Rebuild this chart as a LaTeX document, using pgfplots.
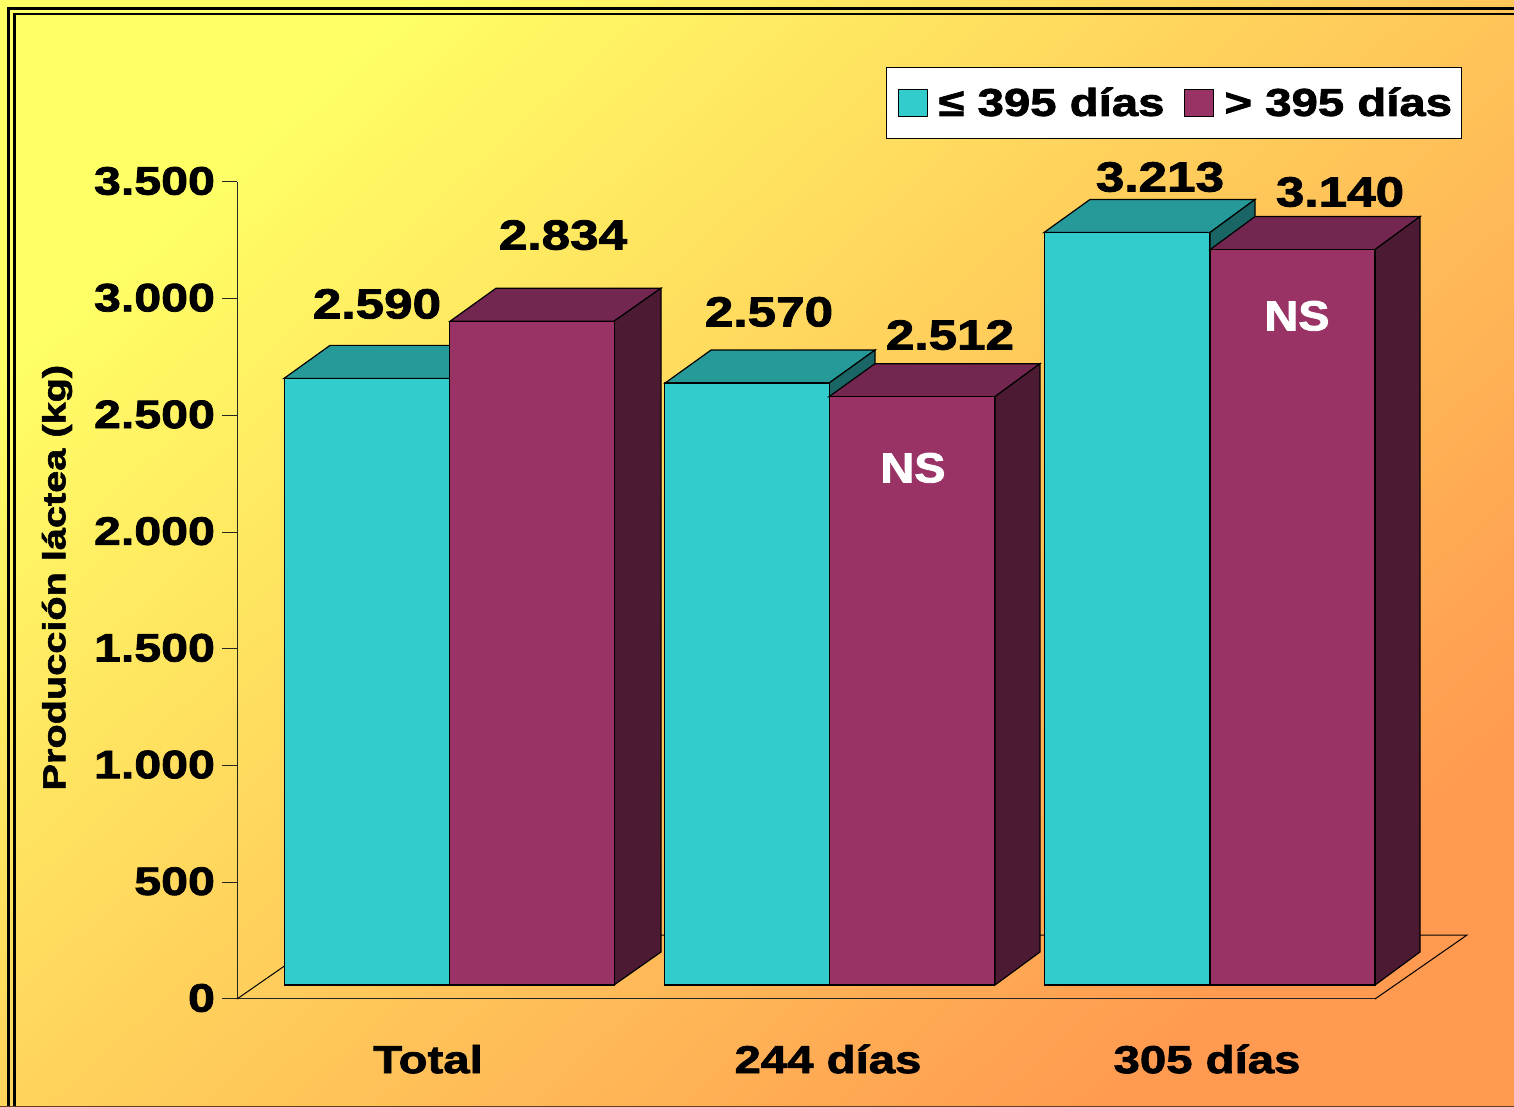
\documentclass[border=0pt]{standalone}
\usepackage{pgfplots}
\usepackage{fontspec}
\pgfplotsset{compat=1.18}
\setmainfont{Liberation Sans}
\newfontfamily\blk[FakeBold=2,FakeStretch=1.22]{Liberation Sans Bold}
\newfontfamily\blkb[FakeBold=1.8,FakeStretch=1.24]{Liberation Sans Bold}
\newfontfamily\blkn[FakeBold=2,FakeStretch=1.115]{Liberation Sans Bold}
\definecolor{tealF}{HTML}{33CCCC}
\definecolor{tealT}{HTML}{269999}
\definecolor{tealS}{HTML}{1A6666}
\definecolor{marF}{HTML}{993366}
\definecolor{marT}{HTML}{732650}
\definecolor{marS}{HTML}{4D1A33}
\definecolor{bgA}{HTML}{FFFF66}
\definecolor{bgB}{HTML}{FF9A50}
\begin{document}
\begin{tikzpicture}[x=1pt,y=1pt]
\useasboundingbox (0,0) rectangle (757,553.5);
\shade[left color=bgA,right color=bgB,shading angle=42] (0,0) rectangle (757,553.5);
% frame
\draw[black,line width=1.4pt] (4.2,-2) -- (4.2,549.3) -- (760,549.3);
\draw[black,line width=1.2pt] (7.2,-2) -- (7.2,546.4) -- (760,546.4);
\draw[black!60!bgB,line width=0.6pt] (0,0.3) -- (757,0.3);
% main axis with ticks and floor
\begin{axis}[
  at={(118.5pt,54pt)},anchor=origin,
  scale only axis,width=569pt,height=408.5pt,
  xmin=237,xmax=1375,ymin=0,ymax=3500,
  clip=false,
  axis x line=bottom,axis y line=left,
  axis line style={-,black!85,line width=0.5pt},
  xtick={428,828,1207},
  xticklabels={Total,244 días,305 días},
  x tick style={draw=none},
  ytick={0,500,1000,1500,2000,2500,3000,3500},
  yticklabels={0,500,1.000,1.500,2.000,2.500,3.000,3.500},
  y tick style={black!85,line width=0.5pt},
  tick align=outside,
  major tick length=7.5pt,
  xticklabel style={font=\blk\fontsize{19.4}{20}\selectfont,yshift=-12pt,text height=14pt,text depth=0pt},
  yticklabel style={font=\blk\fontsize{19.8}{20}\selectfont,xshift=0pt,yshift=0.5pt},
  ylabel={Producción láctea (kg)},
  every axis y label/.style={at={(axis cs:57,1805)},rotate=90,anchor=center,font=\blkb\fontsize{16}{18}\selectfont},
]
\addplot[black,line width=0.5pt,forget plot] coordinates {(237,0)(329,274)(1467,274)(1375,0)};
\end{axis}
% bars
\begin{axis}[
  at={(118.5pt,61pt)},anchor=origin,
  scale only axis,width=569pt,height=409.85pt,
  xmin=237,xmax=1375,ymin=0,ymax=3500,
  clip=false,hide axis,
  legend columns=2,
  legend style={at={(axis cs:886,3920)},anchor=north west,draw=black,fill=white,line width=0.5pt,
    font=\blk\fontsize{19.4}{20}\selectfont,inner xsep=2.5pt,inner ysep=8pt,
    /tikz/every even column/.append style={column sep=4.5pt}},
  legend image code/.code={\draw[#1,draw=black,line width=0.6pt] (0pt,-6.75pt) rectangle (14.5pt,6.75pt); \path[draw=none,fill=none] (-3.5pt,0pt) -- (18pt,0pt);},
]
% teal 3-D faces
\addplot[fill=tealT,draw=black,line width=0.6pt,forget plot] coordinates {(284,2590)(450,2590)(496,2731)(330,2731)} --cycle;
\addplot[fill=tealS,draw=black,line width=0.6pt,forget plot] coordinates {(450,0)(450,2590)(496,2731)(496,141)} --cycle;
\addplot[fill=tealT,draw=black,line width=0.6pt,forget plot] coordinates {(665,2570)(829,2570)(875,2711)(711,2711)} --cycle;
\addplot[fill=tealS,draw=black,line width=0.6pt,forget plot] coordinates {(829,0)(829,2570)(875,2711)(875,141)} --cycle;
\addplot[fill=tealT,draw=black,line width=0.6pt,forget plot] coordinates {(1044,3213)(1210,3213)(1255,3354)(1090,3354)} --cycle;
\addplot[fill=tealS,draw=black,line width=0.6pt,forget plot] coordinates {(1210,0)(1210,3213)(1255,3354)(1255,141)} --cycle;
% teal bars
\addplot[ybar,bar width=82.5pt,bar shift=0pt,fill=tealF,draw=black,line width=0.6pt] coordinates {(367,2590)(747,2570)(1127,3213)};
\addlegendentry{≤ 395 días}
% maroon 3-D faces
\addplot[fill=marT,draw=black,line width=0.6pt,forget plot] coordinates {(450,2834)(614,2834)(661,2975)(496,2975)} --cycle;
\addplot[fill=marS,draw=black,line width=0.6pt,forget plot] coordinates {(614,0)(614,2834)(661,2975)(661,141)} --cycle;
\addplot[fill=marT,draw=black,line width=0.6pt,forget plot] coordinates {(829,2512)(995,2512)(1040,2653)(875,2653)} --cycle;
\addplot[fill=marS,draw=black,line width=0.6pt,forget plot] coordinates {(995,0)(995,2512)(1040,2653)(1040,141)} --cycle;
\addplot[fill=marT,draw=black,line width=0.6pt,forget plot] coordinates {(1210,3140)(1375,3140)(1420,3281)(1255,3281)} --cycle;
\addplot[fill=marS,draw=black,line width=0.6pt,forget plot] coordinates {(1375,0)(1375,3140)(1420,3281)(1420,141)} --cycle;
% maroon bars
\addplot[ybar,bar width=82.5pt,bar shift=0pt,fill=marF,draw=black,line width=0.6pt] coordinates {(532,2834)(912,2512)(1292.5,3140)};
\addlegendentry{> 395 días}
% value labels
\begin{scope}[every node/.style={font=\blk\fontsize{21}{22}\selectfont,text=black,anchor=center,inner sep=0pt}]
\node at (axis cs:377,2908) {2.590};
\node at (axis cs:563,3202) {2.834};
\node at (axis cs:769,2874) {2.570};
\node at (axis cs:950,2775) {2.512};
\node at (axis cs:1160,3450) {3.213};
\node at (axis cs:1340,3386) {3.140};
\node[text=white,font=\blkn\fontsize{21}{22}\selectfont] at (axis cs:913,2208) {NS};
\node[text=white,font=\blkn\fontsize{21}{22}\selectfont] at (axis cs:1297,2857) {NS};
\end{scope}
\end{axis}
\end{tikzpicture}
\end{document}
